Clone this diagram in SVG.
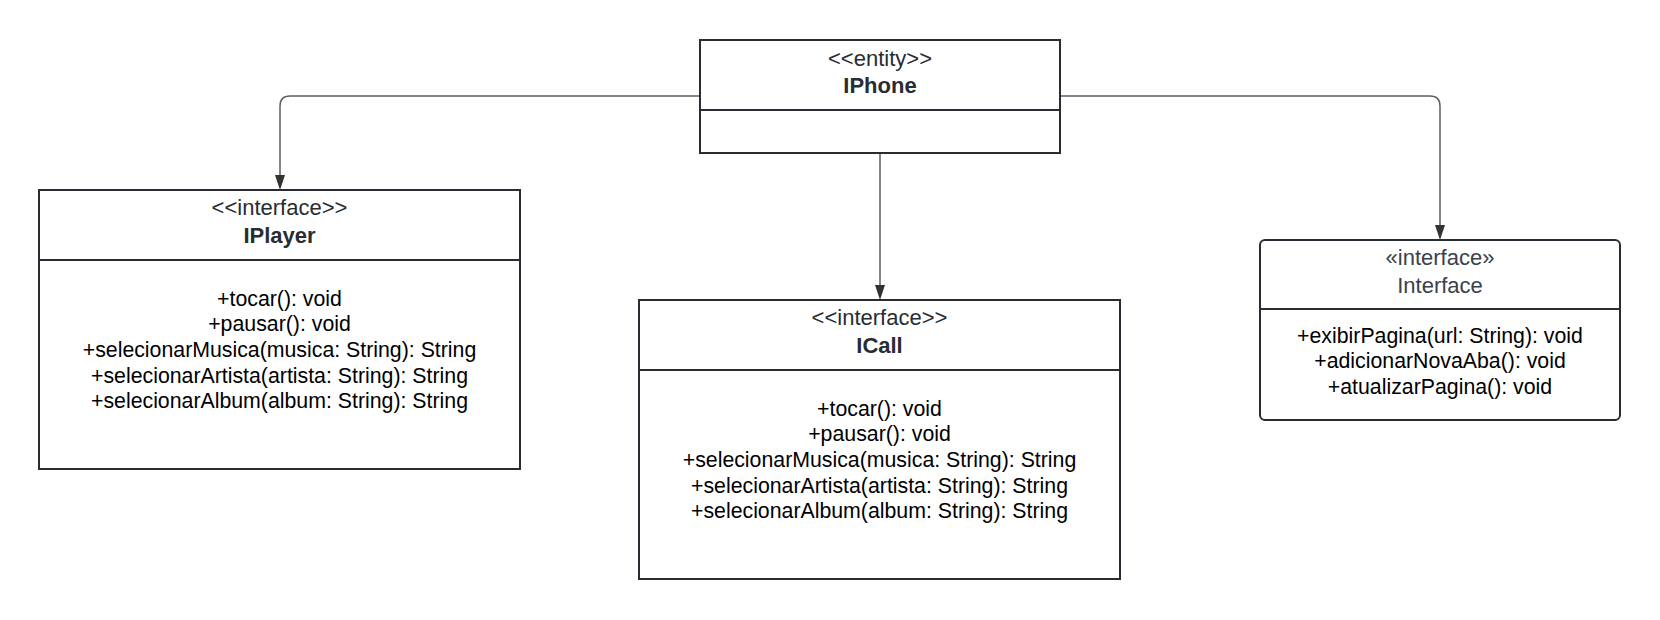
<svg xmlns="http://www.w3.org/2000/svg" width="1660" height="620" viewBox="0 0 1660 620">
<defs>
<style>
.box{fill:#ffffff;stroke:#282c33;stroke-width:2}
.div{stroke:#282c33;stroke-width:2}
.st{font-family:"Liberation Sans",Arial,sans-serif;font-size:22px;fill:#282c33;text-anchor:middle}
.nm{font-family:"Liberation Sans",Arial,sans-serif;font-size:22px;font-weight:bold;fill:#282c33;text-anchor:middle}
.nm2{font-family:"Liberation Sans",Arial,sans-serif;font-size:22px;fill:#3a414a;text-anchor:middle}
.m{font-family:"Liberation Sans",Arial,sans-serif;font-size:21.3px;fill:#000000;text-anchor:middle}
.con{fill:none;stroke:#5e5e5e;stroke-width:1.5}
</style>
<marker id="arr" markerWidth="10" markerHeight="15" refX="5" refY="15" orient="auto" markerUnits="userSpaceOnUse" viewBox="0 0 10 15">
<path d="M0,0 L10,0 L5,15 Z" fill="#333333"/>
</marker>
</defs>
<rect width="1660" height="620" fill="#ffffff"/>
<g id="connectors">
<path class="con" d="M700,96 L290,96 Q280,96 280,106 L280,175"/>
<path d="M275,175 L285,175 L280,190 Z" fill="#333333"/>
<path class="con" d="M1060,96 L1430,96 Q1440,96 1440,106 L1440,225"/>
<path d="M1435,225 L1445,225 L1440,240 Z" fill="#333333"/>
<path class="con" d="M880,153 L880,285"/>
<path d="M875,285 L885,285 L880,300 Z" fill="#333333"/>
</g>
<g id="IPhone">
<rect class="box" x="700" y="40" width="360" height="113"/>
<line class="div" x1="700" y1="110" x2="1060" y2="110"/>
<text class="st" x="880" y="66">&lt;&lt;entity&gt;&gt;</text>
<text class="nm" x="880" y="93">IPhone</text>
</g>
<g id="IPlayer">
<rect class="box" x="39" y="190" width="481" height="279"/>
<line class="div" x1="39" y1="260" x2="520" y2="260"/>
<text class="st" x="279.5" y="215">&lt;&lt;interface&gt;&gt;</text>
<text class="nm" x="279.5" y="243">IPlayer</text>
<text class="m" x="279.5" y="305.7">+tocar(): void</text>
<text class="m" x="279.5" y="331.3">+pausar(): void</text>
<text class="m" x="279.5" y="356.9">+selecionarMusica(musica: String): String</text>
<text class="m" x="279.5" y="382.5">+selecionarArtista(artista: String): String</text>
<text class="m" x="279.5" y="408.1">+selecionarAlbum(album: String): String</text>
</g>
<g id="ICall">
<rect class="box" x="639" y="300" width="481" height="279"/>
<line class="div" x1="639" y1="370" x2="1120" y2="370"/>
<text class="st" x="879.5" y="325">&lt;&lt;interface&gt;&gt;</text>
<text class="nm" x="879.5" y="353">ICall</text>
<text class="m" x="879.5" y="415.7">+tocar(): void</text>
<text class="m" x="879.5" y="441.3">+pausar(): void</text>
<text class="m" x="879.5" y="466.9">+selecionarMusica(musica: String): String</text>
<text class="m" x="879.5" y="492.5">+selecionarArtista(artista: String): String</text>
<text class="m" x="879.5" y="518.1">+selecionarAlbum(album: String): String</text>
</g>
<g id="Interface">
<rect class="box" x="1260" y="240" width="360" height="180" rx="5" ry="5"/>
<line class="div" x1="1260" y1="309" x2="1620" y2="309"/>
<text class="nm2" x="1440" y="265">«interface»</text>
<text class="nm2" x="1440" y="293">Interface</text>
<text class="m" x="1440" y="342.7">+exibirPagina(url: String): void</text>
<text class="m" x="1440" y="368.3">+adicionarNovaAba(): void</text>
<text class="m" x="1440" y="393.9">+atualizarPagina(): void</text>
</g>
</svg>
